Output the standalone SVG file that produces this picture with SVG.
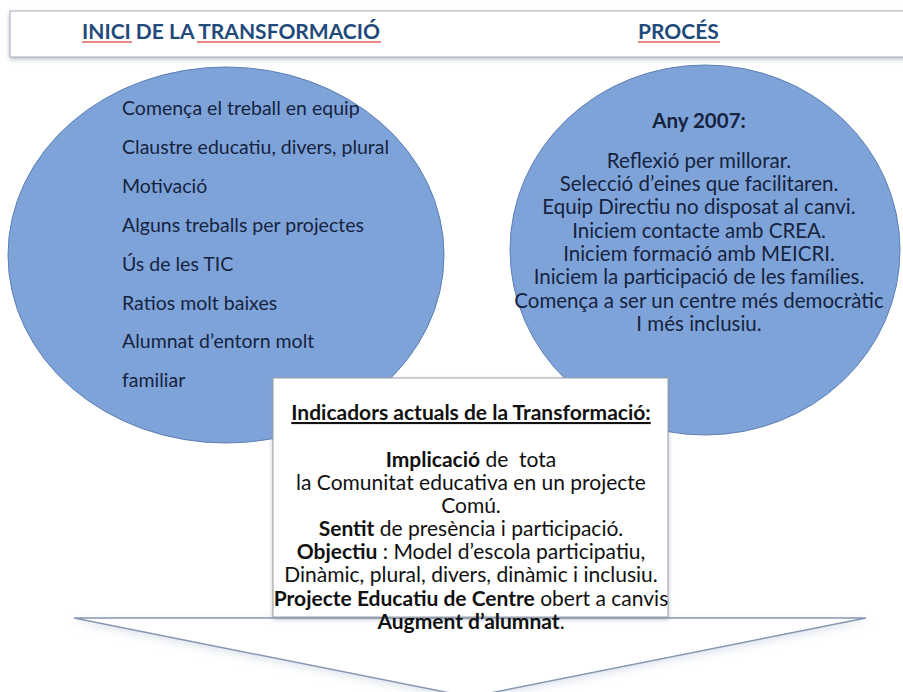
<svg xmlns="http://www.w3.org/2000/svg" width="903" height="692" viewBox="0 0 903 692">
  <defs>
    <filter id="shadow" x="-10%" y="-20%" width="120%" height="150%">
      <feDropShadow dx="0" dy="2" stdDeviation="2" flood-color="#7f8fa6" flood-opacity="0.55"/>
    </filter>
    <filter id="softshadow" x="-10%" y="-10%" width="120%" height="130%">
      <feDropShadow dx="0" dy="3" stdDeviation="4" flood-color="#9fb2cf" flood-opacity="0.35"/>
    </filter>
    <pattern id="squiggle" x="0" y="0" width="4" height="4" patternUnits="userSpaceOnUse">
      <path d="M0,3 L1,1 L2,3 L3,1 L4,3" fill="none" stroke="#d9322b" stroke-width="0.7"/>
    </pattern>
  </defs>
  <style>
    .hdr { font-family: Lato, "Open Sans", "DejaVu Sans", sans-serif; font-weight: bold; font-size: 21px; fill: #1f4a7a; }
    .ell { fill: #7ea3d9; stroke: #5d7fb3; stroke-width: 1; }
    .lt { font-family: Lato, "Open Sans", "DejaVu Sans", sans-serif; font-size: 19.5px; fill: #16233f; }
    .rt { font-family: Lato, "Open Sans", "DejaVu Sans", sans-serif; font-size: 20.5px; fill: #16233f; text-anchor: middle; }
    .bx { font-family: Lato, "Open Sans", "DejaVu Sans", sans-serif; font-size: 21px; fill: #111; text-anchor: middle; white-space: pre; }
    .b { font-weight: bold; }
  </style>
  <rect width="903" height="692" fill="#ffffff"/>

  <g id="header">
    <rect x="10" y="11" width="900" height="46" fill="#ffffff" stroke="#a9adb3" stroke-width="1" filter="url(#shadow)"/>
    <text class="hdr" x="82" y="39">INICI DE LA TRANSFORMACIÓ</text>
    <text class="hdr" x="638" y="39">PROCÉS</text>
    <rect x="82" y="41" width="50" height="4" fill="url(#squiggle)"/>
    <rect x="197" y="41" width="184" height="4" fill="url(#squiggle)"/>
    <rect x="638" y="41" width="82" height="4" fill="url(#squiggle)"/>
  </g>

  <g id="connectors">
    <polygon points="74,618 866,618 470,697" fill="#ffffff" stroke="#8796b3" stroke-width="1.5" filter="url(#softshadow)"/>
  </g>

  <g id="inici">
    <ellipse class="ell" cx="226" cy="255" rx="218" ry="188"/>
    <text class="lt" x="122" y="115">Comença el treball en equip</text>
    <text class="lt" x="122" y="154">Claustre educatiu, divers, plural</text>
    <text class="lt" x="122" y="193">Motivació</text>
    <text class="lt" x="122" y="232">Alguns treballs per projectes</text>
    <text class="lt" x="122" y="271">Ús de les TIC</text>
    <text class="lt" x="122" y="310">Ratios molt baixes</text>
    <text class="lt" x="122" y="348">Alumnat d’entorn molt</text>
    <text class="lt" x="122" y="387">familiar</text>
  </g>

  <g id="proces">
    <ellipse class="ell" cx="705" cy="250" rx="195" ry="185"/>
    <text class="rt b" x="699" y="128">Any 2007:</text>
    <text class="rt" x="699" y="168">Reflexió per millorar.</text>
    <text class="rt" x="699" y="191">Selecció d’eines que facilitaren.</text>
    <text class="rt" x="699" y="214">Equip Directiu no disposat al canvi.</text>
    <text class="rt" x="699" y="238">Iniciem contacte amb CREA.</text>
    <text class="rt" x="699" y="261">Iniciem formació amb MEICRI.</text>
    <text class="rt" x="699" y="284">Iniciem la participació de les famílies.</text>
    <text class="rt" x="699" y="308">Comença a ser un centre més democràtic</text>
    <text class="rt" x="699" y="331">I més inclusiu.</text>
  </g>

  <g id="indicadors">
    <rect x="273" y="378" width="395" height="239" fill="#ffffff" stroke="#9a9ea6" stroke-width="1" filter="url(#shadow)"/>
    <text class="bx b" x="471" y="420" text-decoration="underline">Indicadors actuals de la Transformació:</text>
    <text class="bx" x="471" y="467" xml:space="preserve"><tspan class="b">Implicació</tspan> de  tota</text>
    <text class="bx" x="471" y="490">la Comunitat educativa en un projecte</text>
    <text class="bx" x="471" y="513">Comú.</text>
    <text class="bx" x="471" y="536"><tspan class="b">Sentit</tspan> de presència i participació.</text>
    <text class="bx" x="471" y="559"><tspan class="b">Objectiu</tspan> : Model d’escola participatiu,</text>
    <text class="bx" x="471" y="582">Dinàmic, plural, divers, dinàmic i inclusiu.</text>
    <text class="bx" x="471" y="606"><tspan class="b">Projecte Educatiu de Centre</tspan> obert a canvis</text>
    <text class="bx" x="471" y="629"><tspan class="b">Augment d’alumnat</tspan>.</text>
  </g>
</svg>
